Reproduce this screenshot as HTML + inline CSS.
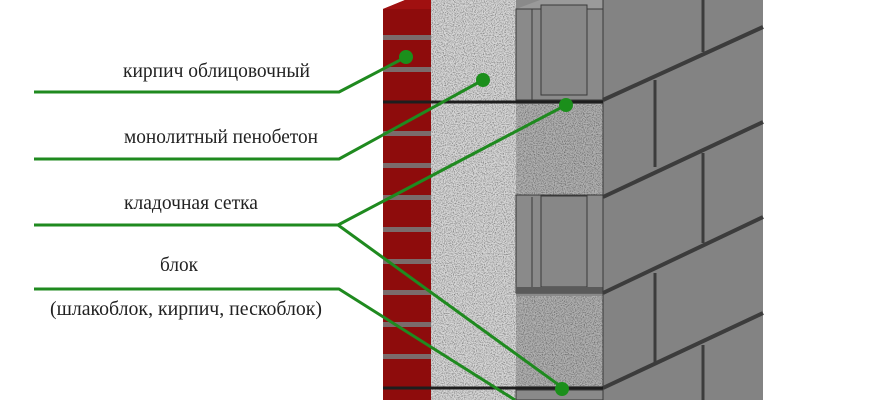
<!DOCTYPE html>
<html><head><meta charset="utf-8"><style>
html,body{margin:0;padding:0;background:#fff;}
svg{display:block;}
text{font-family:"Liberation Serif","Noto Serif CJK SC",serif;font-size:19.5px;fill:#222;}
</style></head><body>
<svg width="870" height="400" viewBox="0 0 870 400" xmlns="http://www.w3.org/2000/svg">
<defs>
<filter id="noise" x="0" y="0" width="100%" height="100%">
<feTurbulence type="fractalNoise" baseFrequency="0.9" numOctaves="2" seed="3" result="n"/>
<feColorMatrix in="n" type="matrix" values="0 0 0 0 0  0 0 0 0 0  0 0 0 0 0  0 0 0 -2.2 1.25" result="a"/>
<feComposite in="a" in2="SourceGraphic" operator="in"/>
</filter>
</defs>
<rect width="870" height="400" fill="#fff"/>
<polygon points="383,9 405,0 431,0 431,400 383,400" fill="#8e0c0c"/>
<polygon points="383,9 405,0 431,0 431,9" fill="#a01010"/>
<g fill="#7b6b6b">
<rect x="383" y="35" width="48" height="5"/>
<rect x="383" y="67" width="48" height="5"/>
<rect x="383" y="131" width="48" height="5"/>
<rect x="383" y="163" width="48" height="5"/>
<rect x="383" y="195" width="48" height="5"/>
<rect x="383" y="227" width="48" height="5"/>
<rect x="383" y="259" width="48" height="5"/>
<rect x="383" y="290" width="48" height="5"/>
<rect x="383" y="322" width="48" height="5"/>
<rect x="383" y="354" width="48" height="5"/>
</g>
<rect x="431" y="0" width="85" height="400" fill="#d6d6d6"/>
<rect x="431" y="0" width="85" height="400" fill="#555" filter="url(#noise)" opacity="0.5"/>
<rect x="516" y="0" width="87" height="400" fill="#8a8a8a"/>
<polygon points="516,9 540,0 603,0 603,9" fill="#9a9a9a"/>
<g stroke="#3a3a3a" stroke-width="1" fill="none">
<rect x="516" y="9" width="87" height="91"/>
<line x1="532" y1="9" x2="532" y2="100"/><line x1="541" y1="5" x2="541" y2="95"/>
<line x1="587" y1="5" x2="587" y2="95"/><line x1="541" y1="95" x2="587" y2="95"/>
</g>
<rect x="541" y="5" width="46" height="90" fill="#878787" stroke="#3a3a3a"/>
<rect x="516" y="104" width="87" height="91" fill="#b0b0b0"/>
<rect x="516" y="104" width="87" height="91" fill="#333" filter="url(#noise)" opacity="0.5"/>
<rect x="516" y="195" width="87" height="98" fill="#8a8a8a" stroke="#3a3a3a"/>
<line x1="532" y1="197" x2="532" y2="290" stroke="#3a3a3a"/>
<rect x="541" y="196" width="46" height="91" fill="#878787" stroke="#3a3a3a"/>
<rect x="516" y="287" width="87" height="6" fill="#5a5a5a"/>
<rect x="516" y="296" width="87" height="90" fill="#b0b0b0"/>
<rect x="516" y="296" width="87" height="90" fill="#333" filter="url(#noise)" opacity="0.5"/>
<rect x="516" y="390" width="87" height="10" fill="#8a8a8a" stroke="#3a3a3a"/>
<rect x="603" y="0" width="160" height="400" fill="#838383"/>
<g stroke="#3c3c3c" stroke-width="4">
<line x1="603" y1="100" x2="763" y2="27"/>
<line x1="603" y1="197" x2="763" y2="122"/>
<line x1="603" y1="293" x2="763" y2="217"/>
<line x1="603" y1="388" x2="763" y2="313"/>
</g>
<g stroke="#3c3c3c" stroke-width="3">
<line x1="703" y1="0" x2="703" y2="52"/>
<line x1="655" y1="80" x2="655" y2="167"/>
<line x1="703" y1="153" x2="703" y2="243"/>
<line x1="655" y1="273" x2="655" y2="362"/>
<line x1="703" y1="345" x2="703" y2="400"/>
</g>
<line x1="603" y1="0" x2="603" y2="400" stroke="#3a3a3a" stroke-width="1"/>
<g stroke="#1e1e1e" stroke-width="3">
<line x1="383" y1="102" x2="603" y2="102"/>
<line x1="383" y1="388" x2="603" y2="388"/>
</g>
<g stroke="#1f8a1f" stroke-width="3" fill="none" stroke-linejoin="round">
<polyline points="34,92 339,92 406,57"/>
<polyline points="34,159 339,159 483,80"/>
<polyline points="34,225 338,225 566,105"/>
<polyline points="338,225 563,388"/>
<polyline points="34,289 339,289 515,400"/>
</g>
<g fill="#1b8f1b">
<circle cx="406" cy="57" r="7"/>
<circle cx="483" cy="80" r="7"/>
<circle cx="566" cy="105" r="7"/>
<circle cx="562" cy="389" r="7"/>
</g>
<text x="123" y="77" textLength="187" lengthAdjust="spacingAndGlyphs">кирпич облицовочный</text>
<text x="124" y="143" textLength="194" lengthAdjust="spacingAndGlyphs">монолитный пенобетон</text>
<text x="124" y="209" textLength="134" lengthAdjust="spacingAndGlyphs">кладочная сетка</text>
<text x="160" y="271" textLength="38" lengthAdjust="spacingAndGlyphs">блок</text>
<text x="50" y="315" textLength="272" lengthAdjust="spacingAndGlyphs">(шлакоблок, кирпич, пескоблок)</text>
</svg>
</body></html>
